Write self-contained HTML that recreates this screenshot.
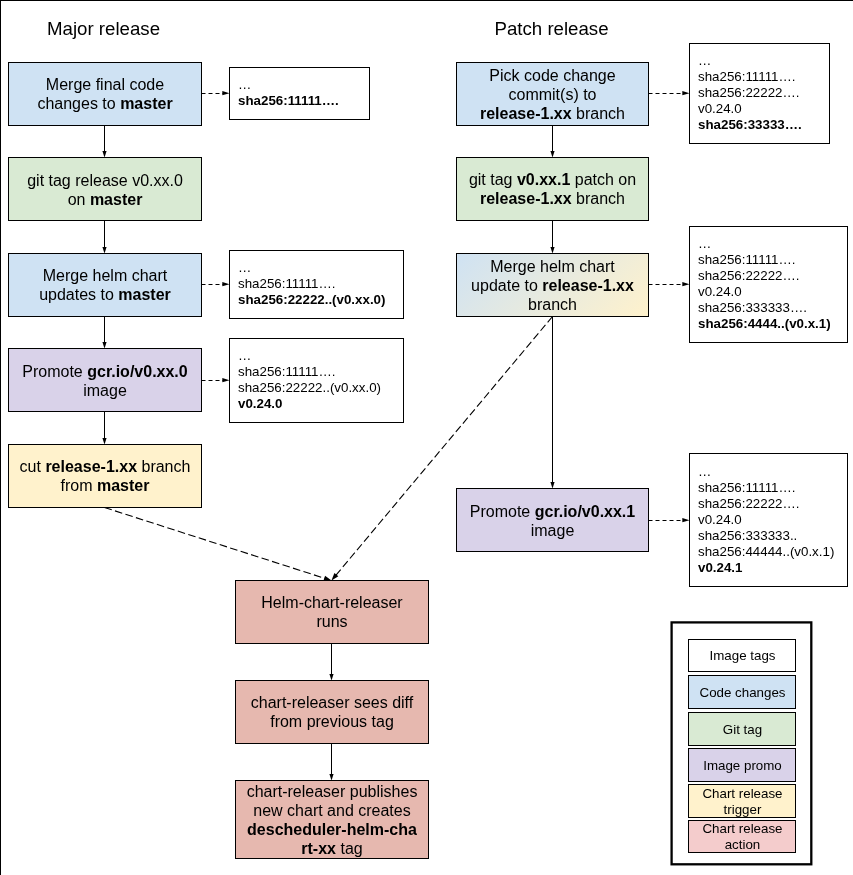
<!DOCTYPE html>
<html><head><meta charset="utf-8"><style>
html,body{margin:0;padding:0;background:#fff;}
body{width:853px;height:875px;position:relative;overflow:hidden;font-family:"Liberation Sans",sans-serif;color:#000;}
svg{position:absolute;left:0;top:0;}
#tx{position:absolute;left:0;top:0;width:853px;height:875px;will-change:transform;}
.t{position:absolute;display:flex;flex-direction:column;box-sizing:border-box;}
.t>span{display:block;}
.h{position:absolute;font-size:18.67px;line-height:22px;white-space:nowrap;}
</style></head><body>
<svg width="853" height="875" viewBox="0 0 853 875">
<defs><linearGradient id="grad" gradientUnits="userSpaceOnUse" x1="456.5" y1="253.5" x2="584" y2="381"><stop offset="0" stop-color="#cfe2f3"/><stop offset="1" stop-color="#fff2cc"/></linearGradient></defs>
<line x1="0.5" y1="0" x2="0.5" y2="875" stroke="#000" stroke-width="1"/>
<line x1="0" y1="0.5" x2="853" y2="0.5" stroke="#000" stroke-width="1"/>
<rect x="8.5" y="62.5" width="193.0" height="63.0" fill="#cfe2f3" stroke="#000" stroke-width="1"/>
<rect x="8.5" y="157.5" width="193.0" height="63.0" fill="#d9ead3" stroke="#000" stroke-width="1"/>
<rect x="8.5" y="253.5" width="193.0" height="63.0" fill="#cfe2f3" stroke="#000" stroke-width="1"/>
<rect x="8.5" y="348.5" width="193.0" height="63.0" fill="#d9d2e9" stroke="#000" stroke-width="1"/>
<rect x="8.5" y="444.5" width="193.0" height="63.0" fill="#fff2cc" stroke="#000" stroke-width="1"/>
<line x1="104.5" y1="125.5" x2="104.5" y2="152.5" stroke="#000" stroke-width="1"/>
<path d="M102.4 150.9L106.6 150.9L104.5 157.5Z" fill="#000"/>
<line x1="104.5" y1="220.5" x2="104.5" y2="248.5" stroke="#000" stroke-width="1"/>
<path d="M102.4 246.9L106.6 246.9L104.5 253.5Z" fill="#000"/>
<line x1="104.5" y1="316.5" x2="104.5" y2="343.5" stroke="#000" stroke-width="1"/>
<path d="M102.4 341.9L106.6 341.9L104.5 348.5Z" fill="#000"/>
<line x1="104.5" y1="411.5" x2="104.5" y2="439.5" stroke="#000" stroke-width="1"/>
<path d="M102.4 437.9L106.6 437.9L104.5 444.5Z" fill="#000"/>
<rect x="229.5" y="67.5" width="140.0" height="52.0" fill="#fff" stroke="#000" stroke-width="1"/>
<rect x="229.5" y="250.5" width="174.0" height="68.0" fill="#fff" stroke="#000" stroke-width="1"/>
<rect x="229.5" y="338.5" width="174.0" height="84.0" fill="#fff" stroke="#000" stroke-width="1"/>
<line x1="201.5" y1="93.5" x2="223.5" y2="93.5" stroke="#000" stroke-width="1" stroke-dasharray="4 3"/>
<path d="M222.3 90.9L222.3 95.3L229.5 93.3Z" fill="#000"/>
<line x1="201.5" y1="284.5" x2="223.5" y2="284.5" stroke="#000" stroke-width="1" stroke-dasharray="4 3"/>
<path d="M222.3 281.9L222.3 286.3L229.5 284.3Z" fill="#000"/>
<line x1="201.5" y1="380.5" x2="223.5" y2="380.5" stroke="#000" stroke-width="1" stroke-dasharray="4 3"/>
<path d="M222.3 377.9L222.3 382.3L229.5 380.3Z" fill="#000"/>
<rect x="456.5" y="62.5" width="192.0" height="63.0" fill="#cfe2f3" stroke="#000" stroke-width="1"/>
<rect x="456.5" y="157.5" width="192.0" height="63.0" fill="#d9ead3" stroke="#000" stroke-width="1"/>
<rect x="456.5" y="253.5" width="192.0" height="63.0" fill="url(#grad)" stroke="#000" stroke-width="1"/>
<rect x="456.5" y="488.5" width="192.0" height="63.0" fill="#d9d2e9" stroke="#000" stroke-width="1"/>
<line x1="552.5" y1="125.5" x2="552.5" y2="152.5" stroke="#000" stroke-width="1"/>
<path d="M550.4 150.9L554.6 150.9L552.5 157.5Z" fill="#000"/>
<line x1="552.5" y1="220.5" x2="552.5" y2="248.5" stroke="#000" stroke-width="1"/>
<path d="M550.4 246.9L554.6 246.9L552.5 253.5Z" fill="#000"/>
<line x1="552.5" y1="316.5" x2="552.5" y2="483.5" stroke="#000" stroke-width="1"/>
<path d="M550.4 481.9L554.6 481.9L552.5 488.5Z" fill="#000"/>
<rect x="689.5" y="43.5" width="140.0" height="100.0" fill="#fff" stroke="#000" stroke-width="1"/>
<rect x="689.5" y="226.5" width="158.0" height="116.0" fill="#fff" stroke="#000" stroke-width="1"/>
<rect x="689.5" y="453.5" width="158.0" height="133.0" fill="#fff" stroke="#000" stroke-width="1"/>
<line x1="648.5" y1="93.5" x2="683.5" y2="93.5" stroke="#000" stroke-width="1" stroke-dasharray="4 3"/>
<path d="M682.3 90.9L682.3 95.3L689.5 93.3Z" fill="#000"/>
<line x1="648.5" y1="284.5" x2="683.5" y2="284.5" stroke="#000" stroke-width="1" stroke-dasharray="4 3"/>
<path d="M682.3 281.9L682.3 286.3L689.5 284.3Z" fill="#000"/>
<line x1="648.5" y1="520.5" x2="683.5" y2="520.5" stroke="#000" stroke-width="1" stroke-dasharray="4 3"/>
<path d="M682.3 517.9L682.3 522.3L689.5 520.3Z" fill="#000"/>
<rect x="235.5" y="580.5" width="193.0" height="63.0" fill="#e6b8af" stroke="#000" stroke-width="1"/>
<rect x="235.5" y="680.5" width="193.0" height="63.0" fill="#e6b8af" stroke="#000" stroke-width="1"/>
<rect x="235.5" y="780.5" width="193.0" height="78.0" fill="#e6b8af" stroke="#000" stroke-width="1"/>
<line x1="331.5" y1="643.5" x2="331.5" y2="675.5" stroke="#000" stroke-width="1"/>
<path d="M329.4 673.9L333.6 673.9L331.5 680.5Z" fill="#000"/>
<line x1="331.5" y1="743.5" x2="331.5" y2="775.5" stroke="#000" stroke-width="1"/>
<path d="M329.4 773.9L333.6 773.9L331.5 780.5Z" fill="#000"/>
<line x1="104.5" y1="507.5" x2="324.84" y2="578.36" stroke="#000" stroke-width="1.1" stroke-dasharray="7.6 3.4"/>
<path d="M323.47 580.65L325.06 575.70L331.5 580.5Z" fill="#000"/>
<line x1="552.5" y1="316.5" x2="335.99" y2="575.13" stroke="#000" stroke-width="1.1" stroke-dasharray="7.6 3.4"/>
<path d="M334.38 573.00L338.37 576.34L331.5 580.5Z" fill="#000"/>
<rect x="671.6" y="622.4" width="139.7" height="241.9" fill="#fff" stroke="#000" stroke-width="2.3"/>
<rect x="688.5" y="639.5" width="107.0" height="32.0" fill="#fff" stroke="#000" stroke-width="1"/>
<rect x="688.5" y="675.5" width="107.0" height="33.0" fill="#cfe2f3" stroke="#000" stroke-width="1"/>
<rect x="688.5" y="712.5" width="107.0" height="33.0" fill="#d9ead3" stroke="#000" stroke-width="1"/>
<rect x="688.5" y="748.5" width="107.0" height="33.0" fill="#d9d2e9" stroke="#000" stroke-width="1"/>
<rect x="688.5" y="784.5" width="107.0" height="33.0" fill="#fff2cc" stroke="#000" stroke-width="1"/>
<rect x="688.5" y="820.5" width="107.0" height="32.0" fill="#f4cccc" stroke="#000" stroke-width="1"/>
</svg>
<div id="tx">
<div class="h" style="left:47px;top:18px">Major release</div>
<div class="h" style="left:494.5px;top:18px">Patch release</div>
<div class="t" style="left:8.5px;top:63.8px;width:193.0px;height:63.0px;font-size:16px;line-height:18.9px;justify-content:center;text-align:center"><div>Merge final code<br>changes to <b>master</b></div></div>
<div class="t" style="left:8.5px;top:159.5px;width:193.0px;height:63.0px;font-size:16px;line-height:18.9px;justify-content:center;text-align:center"><div>git tag release v0.xx.0<br>on <b>master</b></div></div>
<div class="t" style="left:8.5px;top:254.8px;width:193.0px;height:63.0px;font-size:16px;line-height:18.9px;justify-content:center;text-align:center"><div>Merge helm chart<br>updates to <b>master</b></div></div>
<div class="t" style="left:8.5px;top:350.5px;width:193.0px;height:63.0px;font-size:16px;line-height:18.9px;justify-content:center;text-align:center"><div>Promote <b>gcr.io/v0.xx.0</b><br>image</div></div>
<div class="t" style="left:8.5px;top:445.8px;width:193.0px;height:63.0px;font-size:16px;line-height:18.9px;justify-content:center;text-align:center"><div>cut <b>release-1.xx</b> branch<br>from <b>master</b></div></div>
<div class="t" style="left:238.0px;top:67.0px;width:131.5px;height:52.0px;font-size:13.33px;line-height:16px;justify-content:center;text-align:left"><div>…<br><b>sha256:11111….</b></div></div>
<div class="t" style="left:238.0px;top:250.0px;width:165.5px;height:68.0px;font-size:13.33px;line-height:16px;justify-content:center;text-align:left"><div>…<br>sha256:11111….<br><b>sha256:22222..(v0.xx.0)</b></div></div>
<div class="t" style="left:238.0px;top:338.0px;width:165.5px;height:84.0px;font-size:13.33px;line-height:16px;justify-content:center;text-align:left"><div>…<br>sha256:11111….<br>sha256:22222..(v0.xx.0)<br><b>v0.24.0</b></div></div>
<div class="t" style="left:456.5px;top:63.8px;width:192.0px;height:63.0px;font-size:16px;line-height:18.9px;justify-content:center;text-align:center"><div>Pick code change<br>commit(s) to<br><b>release-1.xx</b> branch</div></div>
<div class="t" style="left:456.5px;top:158.8px;width:192.0px;height:63.0px;font-size:16px;line-height:18.9px;justify-content:center;text-align:center"><div>git tag <b>v0.xx.1</b> patch on<br><b>release-1.xx</b> branch</div></div>
<div class="t" style="left:456.5px;top:254.8px;width:192.0px;height:63.0px;font-size:16px;line-height:18.9px;justify-content:center;text-align:center"><div>Merge helm chart<br>update to <b>release-1.xx</b><br>branch</div></div>
<div class="t" style="left:456.5px;top:490.5px;width:192.0px;height:63.0px;font-size:16px;line-height:18.9px;justify-content:center;text-align:center"><div>Promote <b>gcr.io/v0.xx.1</b><br>image</div></div>
<div class="t" style="left:698.0px;top:43.0px;width:131.5px;height:100.0px;font-size:13.33px;line-height:16px;justify-content:center;text-align:left"><div>…<br>sha256:11111….<br>sha256:22222….<br>v0.24.0<br><b>sha256:33333….</b></div></div>
<div class="t" style="left:698.0px;top:226.0px;width:149.5px;height:116.0px;font-size:13.33px;line-height:16px;justify-content:center;text-align:left"><div>…<br>sha256:11111….<br>sha256:22222….<br>v0.24.0<br>sha256:333333….<br><b>sha256:4444..(v0.x.1)</b></div></div>
<div class="t" style="left:698.0px;top:453.0px;width:149.5px;height:133.0px;font-size:13.33px;line-height:16px;justify-content:center;text-align:left"><div>…<br>sha256:11111….<br>sha256:22222….<br>v0.24.0<br>sha256:333333..<br>sha256:44444..(v0.x.1)<br><b>v0.24.1</b></div></div>
<div class="t" style="left:235.5px;top:581.8px;width:193.0px;height:63.0px;font-size:16px;line-height:18.9px;justify-content:center;text-align:center"><div>Helm-chart-releaser<br>runs</div></div>
<div class="t" style="left:235.5px;top:681.8px;width:193.0px;height:63.0px;font-size:16px;line-height:18.9px;justify-content:center;text-align:center"><div>chart-releaser sees diff<br>from previous tag</div></div>
<div class="t" style="left:235.5px;top:781.8px;width:193.0px;height:78.0px;font-size:16px;line-height:18.9px;justify-content:center;text-align:center"><div>chart-releaser publishes<br>new chart and creates<br><b>descheduler-helm-cha<br>rt-xx</b> tag</div></div>
<div class="t" style="left:689.0px;top:640.2px;width:107.0px;height:32.0px;font-size:13.33px;line-height:16px;justify-content:center;text-align:center"><div>Image tags</div></div>
<div class="t" style="left:689.0px;top:676.2px;width:107.0px;height:33.0px;font-size:13.33px;line-height:16px;justify-content:center;text-align:center"><div>Code changes</div></div>
<div class="t" style="left:689.0px;top:713.2px;width:107.0px;height:33.0px;font-size:13.33px;line-height:16px;justify-content:center;text-align:center"><div>Git tag</div></div>
<div class="t" style="left:689.0px;top:749.2px;width:107.0px;height:33.0px;font-size:13.33px;line-height:16px;justify-content:center;text-align:center"><div>Image promo</div></div>
<div class="t" style="left:689.0px;top:785.2px;width:107.0px;height:33.0px;font-size:13.33px;line-height:16px;justify-content:center;text-align:center"><div>Chart release<br>trigger</div></div>
<div class="t" style="left:689.0px;top:821.2px;width:107.0px;height:32.0px;font-size:13.33px;line-height:16px;justify-content:center;text-align:center"><div>Chart release<br>action</div></div>
</div>
</body></html>
